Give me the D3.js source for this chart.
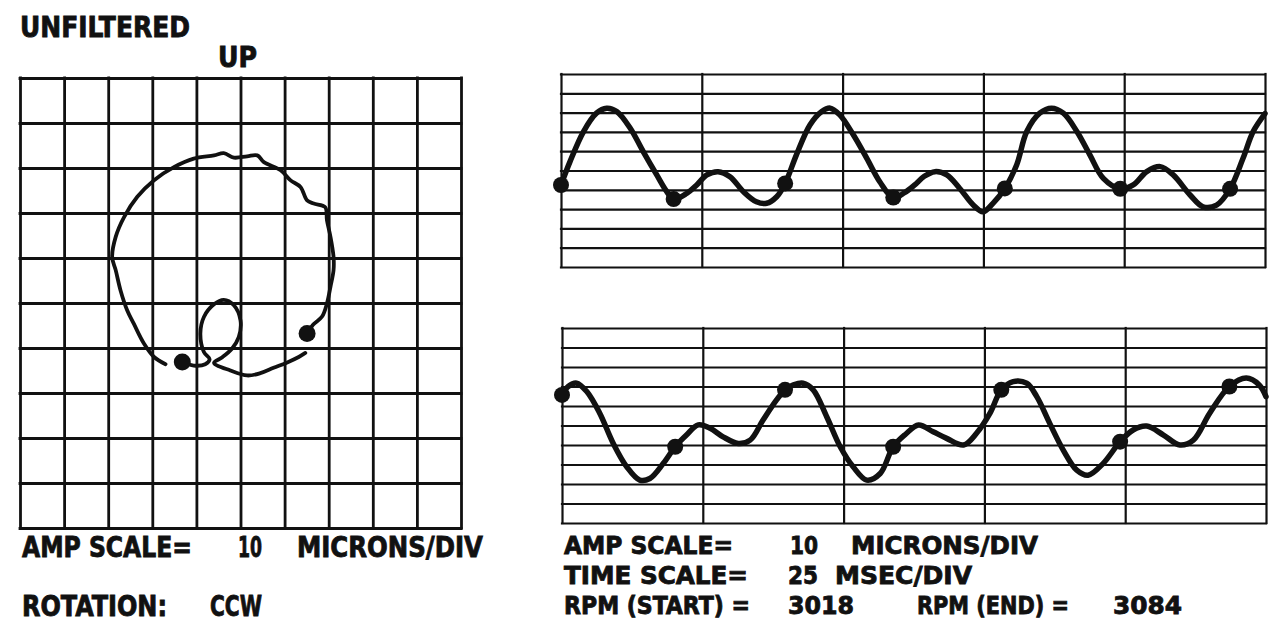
<!DOCTYPE html>
<html>
<head>
<meta charset="utf-8">
<script src="https://cdn.jsdelivr.net/npm/d3@7"></script>
<style>
  html, body { margin: 0; padding: 0; background: #fff; }
  svg text {
    font-family: "DejaVu Sans Condensed", "DejaVu Sans", sans-serif;
    font-weight: bold;
    fill: #111;
    stroke: #111;
    stroke-width: 0.8px;
  }
</style>
</head>
<body>
<div id="chart"></div>
<script>
// scales printed on the plot
const AMP_SCALE = 10;      // microns / div
const TIME_SCALE = 25;     // msec / div
const RPM_START = 3018;
const RPM_END = 3084;
const ROTATION = "CCW";

// orbit, microns (x, y) - two pieces, each starting at a keyphasor mark
const orbitLoop = [
  [-13.2,-13.1],[-10.6,-13.9],[-8.0,-13.6],[-7.0,-12.5],[-8.3,-10.9],[-9.1,-6.8],
  [-8.3,-3.1],[-6.0,-0.3],[-3.8,0.7],[-1.5,-0.5],[0.0,-3.9],[-0.4,-7.6],
  [-1.9,-10.1],[-4.2,-12.1],[-6.0,-13.3],[-2.3,-15.0],[1.5,-16.1],[4.5,-15.6],
  [7.5,-14.4],[10.6,-13.2],[13.2,-12.0],[14.7,-11.1]
];
const orbitOuter = [
  [15.1,-6.8],[16.5,-4.8],[18.5,-3.0],[19.6,-0.1],[20.4,3.6],[21.1,7.3],[21.1,10.2],
  [20.4,14.7],[19.6,18.4],[19.2,21.3],[16.6,22.1],[15.1,22.8],[13.6,25.8],[11.3,27.3],
  [9.1,29.5],[5.3,31.3],[3.8,32.8],[1.5,32.6],[-1.5,32.3],[-3.8,33.3],[-6.0,32.8],
  [-10.6,32.1],[-15.1,30.2],[-19.6,27.3],[-23.4,23.6],[-26.4,19.1],[-28.3,14.7],
  [-29.1,10.2],[-28.3,7.3],[-27.2,2.8],[-25.7,-1.6],[-24.2,-4.6],[-21.9,-9.0],
  [-19.6,-12.0],[-17.0,-13.6]
];

// timebase waveforms: [msec, microns]
const topProbe = [
  [0,-7.5],[1.6,4.6],[4.0,20.2],[6.3,29.7],[8.1,32.3],[9.9,30.6],[12.3,21.9],[14.6,9.8],
  [17.0,-2.3],[18.8,-11.0],[20.0,-14.8],[22.3,-11.9],[24.1,-7.5],[25.9,-2.3],[27.9,-0.6],
  [30.0,-3.2],[32.4,-11.0],[34.7,-16.2],[36.5,-17.0],[38.3,-13.6],[39.8,-6.7],[41.8,8.1],
  [44.2,23.6],[46.3,30.6],[47.8,32.3],[49.5,28.8],[51.9,18.5],[54.3,6.3],[56.6,-5.8],
  [59.0,-14.0],[61.0,-11.5],[62.8,-7.5],[64.5,-3.0],[66.4,-0.6],[68.5,-2.3],[70.8,-9.3],
  [73.2,-17.9],[74.9,-21.4],[76.7,-17.0],[78.8,-9.3],[80.9,2.9],[82.7,20.2],[85.0,29.7],
  [87.1,32.3],[89.2,29.7],[91.6,20.2],[93.9,8.1],[96.3,-4.1],[99.3,-9.5],[101.6,-7.5],
  [104.0,-0.6],[106.4,2.0],[108.7,-2.3],[111.7,-12.7],[114.0,-18.8],[116.4,-17.9],
  [118.8,-9.5],[121.1,6.3],[122.9,20.2],[125.0,29.5]
];
const bottomProbe = [
  [0,15.7],[1.1,20.0],[2.6,21.7],[4.4,17.4],[6.7,6.3],[9.1,-9.2],[11.5,-21.2],[13.8,-28.0],
  [15.6,-27.2],[18.0,-19.4],[20.1,-10.9],[22.1,-4.9],[24.2,0.3],[26.3,-1.4],[28.6,-5.8],
  [31.3,-9.2],[33.4,-7.5],[35.7,2.8],[38.1,13.1],[39.6,18.3],[41.1,20.8],[42.8,21.7],
  [44.6,18.3],[47.0,4.5],[49.4,-10.9],[51.7,-21.2],[54.1,-28.0],[56.5,-24.6],[58.8,-10.9],
  [61.0,-4.5],[63.3,0.3],[65.9,-3.2],[68.3,-6.6],[71.3,-10.0],[73.6,-4.0],[76.0,6.3],
  [78.0,18.3],[80.1,22.5],[82.5,21.7],[84.3,14.8],[86.6,1.1],[89.0,-12.6],[91.4,-22.9],
  [93.4,-25.5],[96.1,-19.4],[99.1,-8.3],[101.4,-2.3],[103.8,-0.3],[106.8,-4.9],
  [109.7,-10.0],[112.1,-7.5],[115.0,6.3],[118.5,20.0],[121.5,24.3],[123.8,20.8],[125.0,14.8]
];

// keyphasor times, msec
const topKeyphasor = [0, 20.0, 39.8, 59.0, 78.8, 99.3, 118.8];
const bottomKeyphasor = [0, 20.1, 39.6, 58.8, 78.0, 99.1, 118.5];

const width = 1280;
const height = 640;
const ink = "#111";

const svg = d3.select("#chart")
  .append("svg")
  .attr("width", width)
  .attr("height", height)
  .style("background-color", "white");

// grid made from axes with full-length ticks
function grid(g, x, y, xStep, yStep, sw) {
  const xd = x.domain(), yd = y.domain();
  g.append("g")
    .attr("transform", `translate(0,${y.range()[0]})`)
    .call(d3.axisBottom(x)
      .tickValues(d3.range(xd[0], xd[1] + 1e-6, xStep))
      .tickSize(-(y.range()[0] - y.range()[1]))
      .tickSizeOuter(0)
      .tickFormat(""))
    .call(a => a.select(".domain").remove());
  g.append("g")
    .attr("transform", `translate(${x.range()[0]},0)`)
    .call(d3.axisLeft(y)
      .tickValues(d3.range(yd[0], yd[1] + 1e-6, yStep))
      .tickSize(-(x.range()[1] - x.range()[0]))
      .tickSizeOuter(0)
      .tickFormat(""))
    .call(a => a.select(".domain").remove());
  g.selectAll(".tick line")
    .attr("stroke", ink)
    .attr("stroke-width", sw)
    .attr("stroke-linecap", "square");
}

// ---- orbit ----
const ox = d3.scaleLinear().domain([-5 * AMP_SCALE, 5 * AMP_SCALE]).range([20, 461]);
const oy = d3.scaleLinear().domain([-5 * AMP_SCALE, 5 * AMP_SCALE]).range([528, 78]);
const orbitG = svg.append("g");
grid(orbitG, ox, oy, AMP_SCALE, AMP_SCALE, 2.8);

const orbitLine = d3.line()
  .x(d => ox(d[0]))
  .y(d => oy(d[1]))
  .curve(d3.curveCatmullRom.alpha(0.5));

orbitG.selectAll("path.orbit")
  .data([orbitLoop, orbitOuter])
  .join("path")
  .attr("class", "orbit")
  .attr("d", orbitLine)
  .attr("fill", "none")
  .attr("stroke", ink)
  .attr("stroke-width", 3.8)
  .attr("stroke-linecap", "round")
  .attr("stroke-linejoin", "round");

orbitG.selectAll("circle")
  .data([orbitLoop[0], orbitOuter[0]])
  .join("circle")
  .attr("cx", d => ox(d[0]))
  .attr("cy", d => oy(d[1]))
  .attr("r", 8.5)
  .attr("fill", ink);

// ---- timebase panels ----
function timebase(data, kp, x0, x1, y0, y1) {
  const x = d3.scaleLinear().domain([0, 5 * TIME_SCALE]).range([x0, x1]);
  const y = d3.scaleLinear().domain([-5 * AMP_SCALE, 5 * AMP_SCALE]).range([y1, y0]);
  const g = svg.append("g");
  grid(g, x, y, TIME_SCALE, AMP_SCALE, 2.2);

  const line = d3.line()
    .x(d => x(d[0]))
    .y(d => y(d[1]))
    .curve(d3.curveCatmullRom.alpha(0.5));

  g.append("path")
    .datum(data)
    .attr("d", line)
    .attr("fill", "none")
    .attr("stroke", ink)
    .attr("stroke-width", 5.5)
    .attr("stroke-linecap", "round")
    .attr("stroke-linejoin", "round");

  const bis = d3.bisector(d => d[0]).center;
  g.selectAll("circle")
    .data(kp.map(t => data[bis(data, t)]))
    .join("circle")
    .attr("cx", d => x(d[0]))
    .attr("cy", d => y(d[1]))
    .attr("r", 8)
    .attr("fill", ink);
}

timebase(topProbe, topKeyphasor, 561, 1265, 74, 267);
timebase(bottomProbe, bottomKeyphasor, 562, 1266, 328, 523);

// ---- text ----
const labels = [
  ["UNFILTERED", 20, 37, 170, 28],
  ["UP", 218, 67, 39, 28],
  ["AMP SCALE=", 22, 557, 170, 28],
  [String(AMP_SCALE), 238, 557, 24, 28],
  ["MICRONS/DIV", 297, 557, 186, 28],
  ["ROTATION:", 22, 616, 145, 28],
  [ROTATION, 210, 616, 52, 28],
  ["AMP SCALE=", 564, 554, 169, 25],
  [String(AMP_SCALE), 790, 554, 28, 25],
  ["MICRONS/DIV", 851, 554, 187, 25],
  ["TIME SCALE=", 564, 584, 184, 25],
  [String(TIME_SCALE), 788, 584, 30, 25],
  ["MSEC/DIV", 835, 584, 137, 25],
  ["RPM (START) =", 564, 614, 186, 25],
  [String(RPM_START), 788, 614, 66, 25],
  ["RPM (END) =", 917, 614, 152, 25],
  [String(RPM_END), 1113, 614, 69, 25]
];

svg.append("g")
  .selectAll("text")
  .data(labels)
  .join("text")
  .attr("x", d => d[1])
  .attr("y", d => d[2])
  .attr("textLength", d => d[3])
  .attr("lengthAdjust", "spacingAndGlyphs")
  .style("font-size", d => d[4] + "px")
  .text(d => d[0]);
</script>
</body>
</html>
